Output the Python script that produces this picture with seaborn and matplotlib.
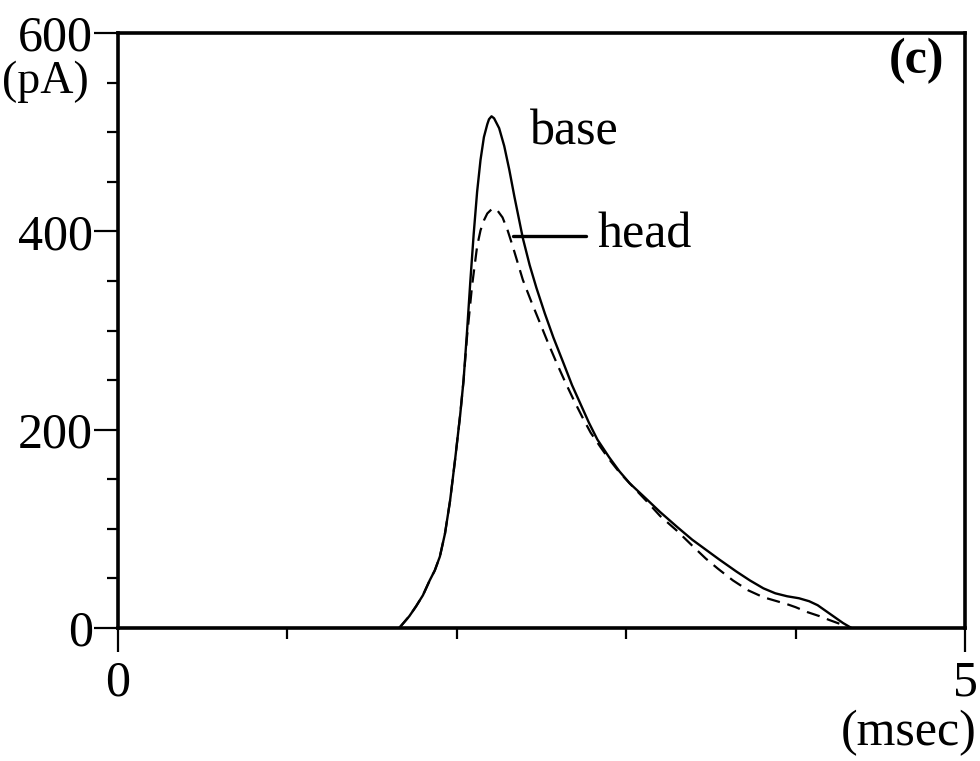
import numpy as np
import pandas as pd
import matplotlib
matplotlib.use("Agg")
import matplotlib.pyplot as plt
import seaborn as sns

# time (msec) and current (pA)
base_t = [1.66, 1.68, 1.72, 1.76, 1.80, 1.84, 1.87, 1.90, 1.93, 1.96, 1.99, 2.02, 2.04, 2.06,
          2.08, 2.10, 2.12, 2.14, 2.16, 2.18, 2.19, 2.205, 2.22, 2.25, 2.28, 2.31, 2.34, 2.39,
          2.43, 2.47, 2.52, 2.57, 2.63, 2.68, 2.73, 2.78, 2.83, 2.90, 2.96, 3.02, 3.07, 3.12,
          3.20, 3.30, 3.39, 3.47, 3.55, 3.65, 3.73, 3.81, 3.88, 3.95, 4.02, 4.08, 4.13, 4.18,
          4.23, 4.28, 4.33]
base_v = [0, 4, 12, 22, 33, 48, 58, 72, 95, 128, 170, 215, 250, 298,
          350, 398, 440, 472, 495, 508, 513, 516, 514, 504, 486, 462, 435, 393,
          366, 343, 317, 293, 267, 245, 226, 207, 190, 172, 158, 146, 138, 130,
          117, 102, 89, 79, 69, 57, 48, 40, 35, 32, 30, 27, 23, 17,
          11, 5, 0]
head_t = [1.66, 1.68, 1.72, 1.76, 1.80, 1.84, 1.87, 1.90, 1.93, 1.96, 1.99, 2.02, 2.04, 2.06,
          2.09, 2.12, 2.14, 2.16, 2.18, 2.21, 2.24, 2.27, 2.30, 2.33, 2.36, 2.39, 2.44, 2.49,
          2.54, 2.59, 2.64, 2.69, 2.74, 2.79, 2.85, 2.90, 2.96, 3.02, 3.07, 3.12, 3.20, 3.30,
          3.39, 3.47, 3.54, 3.63, 3.72, 3.81, 3.89, 3.95, 4.00, 4.07, 4.14, 4.20, 4.28]
head_v = [0, 4, 12, 22, 33, 48, 58, 72, 95, 128, 170, 215, 250, 293,
          345, 385, 401, 411, 418, 423, 421, 414, 401, 385, 368, 351, 329, 308,
          287, 267, 248, 230, 213, 197, 182, 170, 157, 146, 137, 128, 113, 98,
          83, 70, 60, 48, 38, 31, 27, 24, 21, 16, 12, 8, 3]

y_major = [0, 200, 400, 600]
y_minor = [50, 100, 150, 250, 300, 350, 450, 500, 550]
x_major = [0, 5]
x_minor = [1, 2, 3, 4]

sns.set_style("ticks")
plt.rcParams['font.family'] = ['Liberation Serif', 'DejaVu Serif']

fig = plt.figure(figsize=(9.8, 7.61), dpi=100)
ax = fig.add_axes([118/980, 1 - 628/761, (965-118)/980, (628-33)/761])

df_b = pd.DataFrame({"t": base_t, "v": base_v})
df_h = pd.DataFrame({"t": head_t, "v": head_v})
sns.lineplot(data=df_b, x="t", y="v", ax=ax, color="black", lw=1.7, sort=False)
sns.lineplot(data=df_h, x="t", y="v", ax=ax, color="black", lw=1.6, sort=False,
             linestyle=(0, (6, 3.5)))

ax.set_xlim(0, 5)
ax.set_ylim(0, 600)
ax.set_xlabel("")
ax.set_ylabel("")

ax.set_xticks(x_major)
ax.set_xticklabels(["0", "5"])
ax.set_xticks(x_minor, minor=True)
ax.set_yticks(y_major)
ax.set_yticklabels([str(v) for v in y_major])
ax.set_yticks(y_minor, minor=True)

ax.tick_params(axis="both", which="major", direction="out", length=17, width=1.6,
               labelsize=36, pad=1, color="black", labelcolor="black")
ax.tick_params(axis="x", which="major", pad=6)
ax.tick_params(axis="both", which="minor", direction="out", length=8, width=1.6,
               color="black")

for s in ax.spines.values():
    s.set_visible(True)
    s.set_color("black")
    s.set_linewidth(2.6)

ax.text(2.43, 500, "base", fontsize=36, ha="left", va="center", color="black")
ax.plot([2.33, 2.76], [395, 395], color="black", lw=2.4)
ax.text(2.83, 396, "head", fontsize=36, ha="left", va="center", color="black")
ax.text(4.88, 572, "(c)", fontsize=36, fontweight="bold", ha="right", va="center", color="black")

fig.text(89/980, 1 - 82/761, "(pA)", fontsize=33, ha="right", va="center", color="black")
fig.text(977/980, 1 - 733/761, "(msec)", fontsize=36, ha="right", va="center", color="black")

fig.savefig("out.png", dpi=100, facecolor="white")
